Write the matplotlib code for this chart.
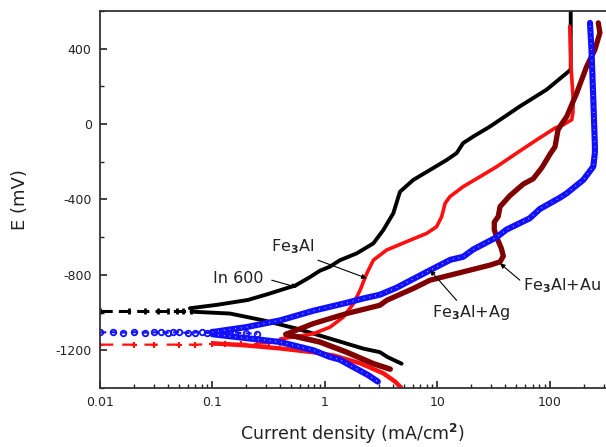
import matplotlib
matplotlib.use('Agg')
import matplotlib.pyplot as plt
from matplotlib.ticker import FixedLocator, LogLocator, NullFormatter, FixedFormatter

plt.rcParams['font.family'] = ['DejaVu Sans']

# ---------------- data (current density in mA/cm2, potential in mV) ----------------
# In 600 (black)
in600_corr_i = [0.01, 0.018, 0.025, 0.033, 0.04, 0.048, 0.055, 0.065]
in600_corr_E = [-990, -990, -990, -990, -990, -990, -990, -990]
in600_cath_i = [0.065, 0.143, 0.283, 0.56, 1.11, 2.19, 3.08, 3.6, 4.8]
in600_cath_E = [-995, -1005, -1041, -1085, -1138, -1191, -1210, -1236, -1271]
in600_anod_i = [0.063, 0.109, 0.206, 0.31, 0.55, 0.72, 0.9, 1.1, 1.36, 1.91, 2.69, 3.3,
                4.05, 4.64, 6.1, 8.6, 12.1, 14.8, 16.9, 20.8, 29.3, 36, 54, 93.5, 141,
                153, 153]
in600_anod_E = [-977, -959, -933, -902, -855, -815, -778, -757, -722, -686, -633, -562,
                -473, -359, -296, -243, -190, -154, -101, -66, -13, 23, 94, 183, 271,
                289, 600]

# Fe3Al (red)
fe3al_corr_i = [0.01, 0.02, 0.03, 0.05, 0.07, 0.1, 0.13, 0.18, 0.25, 0.32, 0.4]
fe3al_corr_E = [-1170, -1170, -1170, -1170, -1170, -1168, -1168, -1166, -1165, -1163, -1160]
fe3al_cath_i = [0.101, 0.2, 0.398, 0.787, 1.2, 2.06, 3.3, 4.2, 4.75]
fe3al_cath_E = [-1163, -1174, -1190, -1210, -1228, -1269, -1322, -1366, -1398]
fe3al_anod_i = [0.4, 0.64, 0.787, 1.11, 1.46, 1.79, 2.05, 2.35, 2.69, 3.53, 5.3, 8.0,
                9.8, 10.9, 11.7, 12.9, 16.9, 23.9, 33.6, 50.6, 76, 111, 131, 156, 160,
                161, 154, 150]
fe3al_anod_E = [-1140, -1121, -1112, -1077, -1023, -952, -882, -793, -722, -668, -624, -580,
                -545, -491, -420, -385, -332, -279, -226, -154, -84, -21, -4, 23, 60,
                129, 306, 519]

# Fe3Al+Au (dark red)
fe3alau_cath_i = [0.45, 0.9, 1.56, 2.69, 3.8]
fe3alau_cath_E = [-1115, -1156, -1210, -1271, -1300]
fe3alau_anod_i = [0.45, 0.79, 1.56, 3.08, 3.53, 6.1, 8.6, 16.9, 29.3, 36, 38.5, 37, 33.6,
                  32, 32, 34.7, 36, 44, 58, 71, 85, 100, 111, 118, 130, 141, 173, 212, 251,
                  278, 269]
fe3alau_anod_E = [-1115, -1058, -1005, -961, -935, -872, -828, -784, -748, -731, -700, -660,
                  -600, -560, -520, -490, -438, -380, -318, -290, -230, -160, -120, -30,
                  10, 40, 165, 306, 395, 484, 537]

# Fe3Al+Ag (blue)
fe3alag_corr_i = [0.01, 0.013, 0.016, 0.02, 0.025, 0.03, 0.035, 0.04, 0.045, 0.05, 0.06,
                  0.07, 0.08, 0.09, 0.1, 0.12, 0.14, 0.16, 0.2, 0.25]
fe3alag_corr_E = [-1105, -1104, -1106, -1104, -1106, -1105, -1103, -1107, -1105, -1104,
                  -1108, -1106, -1102, -1108, -1105, -1104, -1108, -1106, -1110, -1112]
fe3alag_cath_i = [0.1, 0.4, 0.79, 1.09, 1.36, 1.76, 2.41, 2.95]
fe3alag_cath_E = [-1115, -1156, -1200, -1234, -1250, -1287, -1331, -1366]
fe3alag_anod_i = [0.1, 0.2, 0.4, 0.79, 1.56, 2.19, 3.08, 4.33, 8.6, 13, 16.9, 20.8, 33.6,
                  41, 66, 81.5, 123, 141, 198, 243, 251, 251, 243, 234, 227]
fe3alag_anod_E = [-1103, -1077, -1041, -990, -948, -925, -905, -868, -775, -720, -704, -665,
                  -600, -560, -500, -450, -390, -367, -296, -225, -150, -119, 129, 395, 537]

x_ticks = [0.01, 0.1, 1, 10, 100]
x_tick_labels = ['0.01', '0.1', '1', '10', '100']
y_ticks = [-1200, -800, -400, 0, 400]
y_tick_labels = ['-1200', '-800', '-400', '0', '400']

# ---------------- figure ----------------
fig = plt.figure(figsize=(6.06, 4.47), dpi=100)
ax = fig.add_axes([100 / 606, 1 - 388 / 447, 506 / 606, 377 / 447])
ax.set_xscale('log')
ax.set_xlim(0.01, 315)
ax.set_ylim(-1400, 600)

# In 600
ax.plot(in600_corr_i, in600_corr_E, color='black', lw=2.2, ls=(0, (4, 2)),
        marker='|', markersize=5, markeredgewidth=2)
ax.plot(in600_cath_i, in600_cath_E, color='black', lw=2.8, solid_capstyle='round')
ax.plot(in600_anod_i, in600_anod_E, color='black', lw=2.8, solid_capstyle='round')

# Fe3Al
ax.plot(fe3al_corr_i, fe3al_corr_E, color='#ff1010', lw=1.6, ls=(0, (6, 4)),
        marker='+', markersize=5, markeredgewidth=1.5)
ax.plot(fe3al_cath_i, fe3al_cath_E, color='#ff1010', lw=3.2, solid_capstyle='round')
ax.plot(fe3al_anod_i, fe3al_anod_E, color='#ff1010', lw=2.6, solid_capstyle='round')

# Fe3Al+Au
ax.plot(fe3alau_cath_i, fe3alau_cath_E, color='#800000', lw=4.0, solid_capstyle='round')
ax.plot(fe3alau_anod_i, fe3alau_anod_E, color='#800000', lw=3.8, solid_capstyle='round')

# Fe3Al+Ag
ax.plot(fe3alag_corr_i, fe3alag_corr_E, color='#1010ff', lw=1.5, ls=(0, (3, 2)),
        marker='o', markersize=4, markerfacecolor='none', markeredgewidth=1.3)
for xi, yi in [(fe3alag_cath_i, fe3alag_cath_E), (fe3alag_anod_i, fe3alag_anod_E)]:
    ax.plot(xi, yi, color='#1010ff', lw=4.4, solid_capstyle='round')
    ax.plot(xi, yi, color='white', lw=0.9, ls=(0, (0.6, 4)), alpha=0.8)

# annotations
arrow = dict(arrowstyle='-|>', color='black', lw=0.8, mutation_scale=7, shrinkA=0, shrinkB=0)
fs = 11.5
ax.annotate('', xy=(0.564, -866), xytext=(0.336, -828), arrowprops=arrow)
ax.text(0.101, -818, 'In 600', fontsize=fs, ha='left', va='center', color='#222222')
ax.annotate('', xy=(2.35, -818), xytext=(0.867, -722), arrowprops=arrow)
ax.text(0.331, -652, 'Fe$_{\\mathbf{3}}$Al', fontsize=fs, ha='left', va='center', color='#222222')
ax.annotate('', xy=(36, -739), xytext=(54, -828), arrowprops=arrow)
ax.text(58, -858, 'Fe$_{\\mathbf{3}}$Al+Au', fontsize=fs, ha='left', va='center', color='#222222')
ax.annotate('', xy=(8.6, -775), xytext=(14.8, -935), arrowprops=arrow)
ax.text(8.9, -1000, 'Fe$_{\\mathbf{3}}$Al+Ag', fontsize=fs, ha='left', va='center', color='#222222')

# axes styling
ax.xaxis.set_major_locator(FixedLocator(x_ticks))
ax.xaxis.set_major_formatter(FixedFormatter(x_tick_labels))
ax.xaxis.set_minor_locator(LogLocator(base=10, subs=(2, 3, 4, 5, 6, 7, 8, 9)))
ax.xaxis.set_minor_formatter(NullFormatter())
ax.yaxis.set_major_locator(FixedLocator(y_ticks))
ax.yaxis.set_major_formatter(FixedFormatter(y_tick_labels))
ax.yaxis.set_minor_locator(FixedLocator([-1400, -1000, -600, -200, 200, 600]))

ax.tick_params(which='both', direction='in', top=False, right=False, colors='#222222')
ax.tick_params(which='major', length=5, width=1.2, labelsize=9, pad=6)
ax.tick_params(which='minor', length=3, width=1.0)
for s in ['left', 'bottom', 'top']:
    ax.spines[s].set_linewidth(1.3)
    ax.spines[s].set_color('#333333')
ax.spines['right'].set_visible(False)

ax.set_xlabel('Current density (mA/cm$^{\\mathbf{2}}$)', fontsize=12.5, color='#222222')
ax.set_ylabel('E (mV)', fontsize=13, color='#222222')
ax.xaxis.set_label_coords(0.5, -0.09)
ax.yaxis.set_label_coords(-0.14, 0.5)

fig.savefig('out.png', dpi=100)
